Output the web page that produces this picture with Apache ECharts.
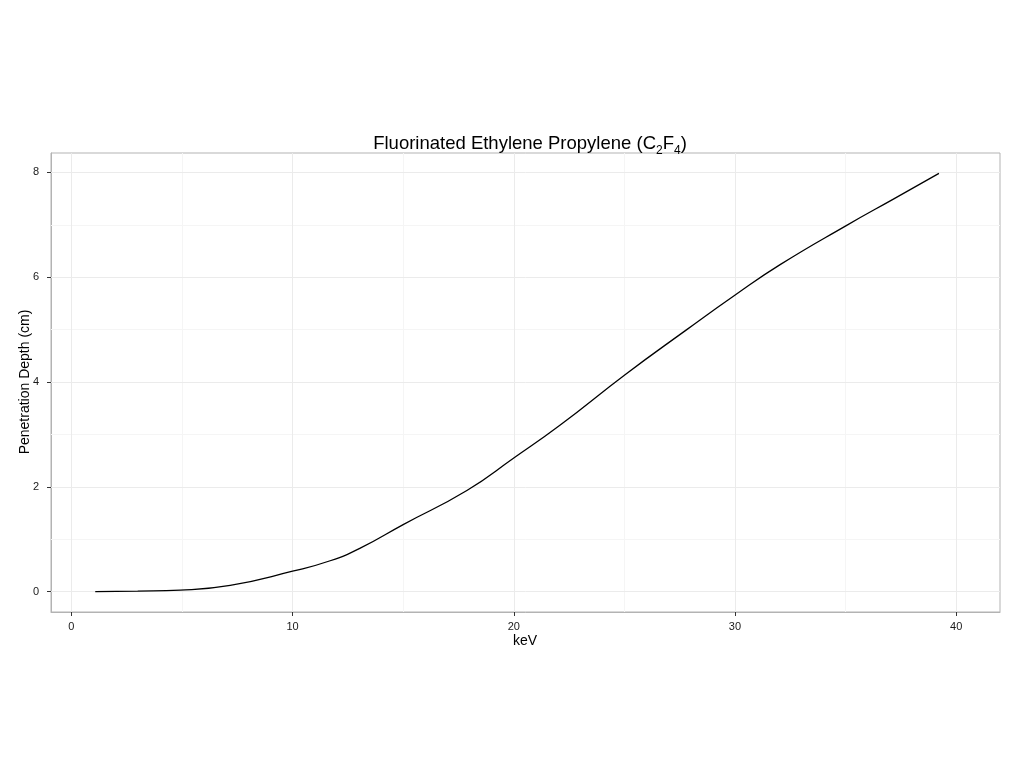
<!DOCTYPE html>
<html>
<head>
<meta charset="utf-8">
<script src="https://cdn.jsdelivr.net/npm/echarts@6/dist/echarts.min.js"></script>
<style>html,body{margin:0;padding:0;background:#fff}#c{width:1024px;height:768px}</style>
</head>
<body>
<div id="c"></div>
<script>
const keV = [1.08, 3.0, 4.93, 7.18, 10.0, 11.7, 13.06, 15.0, 17.88, 20.0, 22.1, 25.03, 27.82, 30.04, 32.04, 35.05, 37.16, 39.22];
const depth = [0.0, 0.01, 0.03, 0.12, 0.39, 0.59, 0.83, 1.28, 1.93, 2.55, 3.18, 4.14, 5.0, 5.67, 6.24, 6.99, 7.49, 7.98];
const xTicks = [0, 10, 20, 30, 40];
const yTicks = [0, 2, 4, 6, 8];
const xMinor = [5, 15, 25, 35];
const yMinor = [1, 3, 5, 7];

const FONT = '"Liberation Sans", Arial, sans-serif';
const major = {color: '#ebebeb', width: 1, type: 'solid'};
const minor = {color: '#f5f5f5', width: 1, type: 'solid'};
const gridLines = [
  ...xMinor.map(v => ({xAxis: v, lineStyle: minor})),
  ...yMinor.map(v => ({yAxis: v, lineStyle: minor})),
  ...xTicks.map(v => ({xAxis: v, lineStyle: major})),
  ...yTicks.map(v => ({yAxis: v, lineStyle: major}))
];

const chart = echarts.init(document.getElementById('c'));
chart.setOption({
  animation: false,
  backgroundColor: '#fff',
  title: {
    text: '{a|Fluorinated Ethylene Propylene (C}{s|2}{a|F}{s|4}{a|)}',
    left: 525, top: 126, textAlign: 'center',
    textStyle: {
      fontWeight: 'normal',
      rich: {
        a: {fontSize: 18.5, fontFamily: FONT, fontWeight: 'normal', color: '#000', lineHeight: 22, verticalAlign: 'bottom'},
        s: {fontSize: 12, fontFamily: FONT, fontWeight: 'normal', color: '#000', lineHeight: 22, verticalAlign: 'bottom', padding: [0, 0, -4, 0]}
      }
    }
  },
  graphic: [
    {type: 'text', x: 525, y: 641, style: {text: 'keV', font: '14px ' + FONT, fill: '#000', textAlign: 'center', textVerticalAlign: 'middle'}},
    {type: 'text', x: 25, y: 382, rotation: Math.PI / 2, style: {text: 'Penetration Depth (cm)', font: '14px ' + FONT, fill: '#000', textAlign: 'center', textVerticalAlign: 'middle'}}
  ],
  grid: {left: 51, right: 24, top: 153, bottom: 156, show: true, borderColor: '#b3b3b3', borderWidth: 1, backgroundColor: '#fff'},
  xAxis: {
    type: 'value', min: -0.92, max: 41.98,
    axisLine: {show: true, onZero: false, lineStyle: {color: '#b3b3b3'}},
    axisTick: {show: true, length: 4, customValues: xTicks, lineStyle: {color: '#333'}},
    axisLabel: {fontSize: 11, fontFamily: FONT, color: '#1a1a1a', margin: 9, customValues: xTicks},
    splitLine: {show: false}
  },
  yAxis: {
    type: 'value', min: -0.388, max: 8.37,
    axisLine: {show: true, onZero: false, lineStyle: {color: '#b3b3b3'}},
    axisTick: {show: true, length: 4, customValues: yTicks, lineStyle: {color: '#333'}},
    axisLabel: {fontSize: 11, fontFamily: FONT, color: '#1a1a1a', margin: 12, customValues: yTicks},
    splitLine: {show: false}
  },
  series: [
    {
      type: 'line', data: [], z: 1, silent: true,
      markLine: {silent: true, z: 1, symbol: 'none', label: {show: false}, animation: false, data: gridLines}
    },
    {
      type: 'line', z: 3,
      data: keV.map((x, i) => [x, depth[i]]),
      smooth: 0.5,
      showSymbol: false,
      lineStyle: {color: '#000', width: 1.3}
    }
  ]
});
</script>
</body>
</html>
